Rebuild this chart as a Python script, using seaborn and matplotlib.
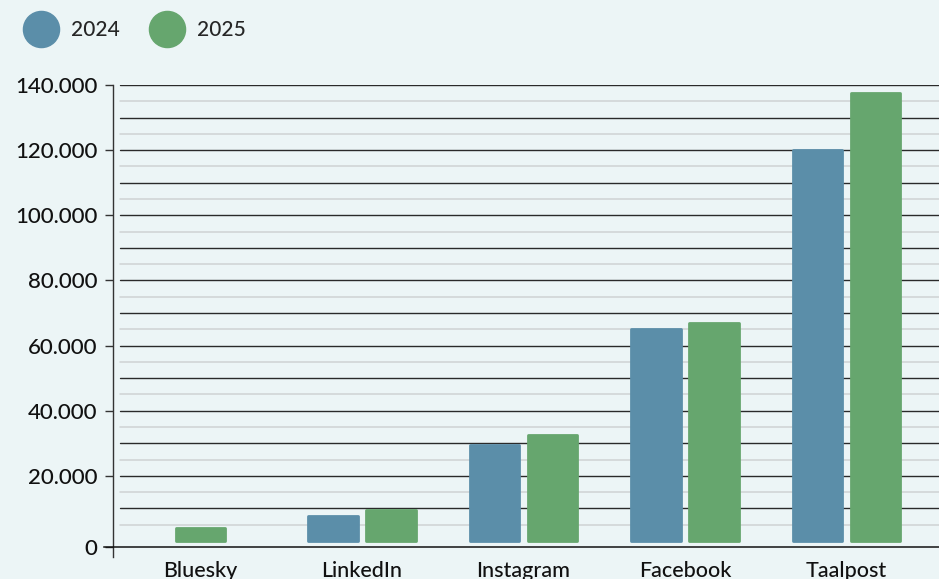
import numpy as np
import pandas as pd
import matplotlib.pyplot as plt
import seaborn as sns
from matplotlib.lines import Line2D

# data
platforms = ["Bluesky", "LinkedIn", "Instagram", "Facebook", "Taalpost"]
years = ["2024", "2025"]
followers_2024 = [np.nan, 7600, 29500, 65000, 120000]
followers_2025 = [4000, 9500, 32600, 67000, 137600]
y_ticks = [20000, 40000, 60000, 80000, 100000, 120000, 140000]

BG = "#ecf5f6"
COLORS = {"2024": "#5b8ea9", "2025": "#66a66e"}
Y_FLOOR = -1850  # baseline sits a little below zero in the original

sns.set_theme(style="white")
plt.rcParams["font.family"] = ["Lato", "DejaVu Sans"]
plt.rcParams["font.weight"] = "medium"

df = pd.DataFrame({"platform": platforms, "2024": followers_2024, "2025": followers_2025})
long_df = df.melt(id_vars="platform", var_name="year", value_name="followers").dropna()

fig = plt.figure(figsize=(9.39, 5.79), dpi=100, facecolor=BG)
ax = fig.add_axes([0.1203, 0.0553, 0.8797, 0.7979])
ax.set_facecolor(BG)

sns.barplot(data=long_df, x="platform", y="followers", hue="year",
            order=platforms, hue_order=years, palette=COLORS,
            width=0.72, gap=0.15, saturation=1, errorbar=None,
            legend=False, ax=ax, zorder=3)

# rounded look for the bars
for bar in ax.patches:
    bar.set_edgecolor(bar.get_facecolor())
    bar.set_linewidth(2)
    bar.set_joinstyle("round")

# a lone bar (no 2024 value) is centred on its category
missing = [i for i, v in enumerate(followers_2024) if np.isnan(v)]
for bar in ax.containers[1]:
    i = int(round(bar.get_x() + bar.get_width() / 2))
    if i in missing:
        bar.set_x(i - bar.get_width() / 2)

ax.set_xlim(-0.542, 4.573)
ax.set_ylim(Y_FLOOR, 140000)

# gridlines: dark every 10.000, light in between
for v in range(5000, 140001, 5000):
    dark = v % 10000 == 0
    ax.axhline(v, xmin=0.0085, xmax=1, color="#2a2a2a" if dark else "#cfd3d4",
               lw=1.0 if dark else 1.1, zorder=1)

for side in ["top", "right"]:
    ax.spines[side].set_visible(False)
ax.spines["left"].set_color("#333333")
ax.spines["left"].set_linewidth(1.0)
ax.spines["left"].set_bounds(-4900, 140000)
ax.spines["bottom"].set_color("#111111")
ax.spines["bottom"].set_linewidth(1.1)
ax.spines["bottom"].set_bounds(-0.598, 4.573)

ax.set_yticks([Y_FLOOR] + y_ticks)
ax.set_yticklabels(["0"] + [f"{v:,}".replace(",", ".") for v in y_ticks])
ax.tick_params(axis="y", left=True, length=6, width=1, color="#333333",
               pad=5, labelsize=16, labelcolor="#111111")
ax.tick_params(axis="x", bottom=False, length=0, pad=10, labelsize=15.5,
               labelcolor="#111111")
ax.set_xlabel("")
ax.set_ylabel("")

handles = [Line2D([0], [0], marker="o", linestyle="none", markersize=26,
                  markerfacecolor=COLORS[y], markeredgecolor=COLORS[y], label=y)
           for y in years]
fig.legend(handles=handles, loc="center left", bbox_to_anchor=(0.0245, 0.948),
           ncol=2, frameon=False, fontsize=15, handlelength=1.7,
           handletextpad=0.6, columnspacing=1.42, borderpad=0, borderaxespad=0)

fig.savefig("out.png", dpi=100, facecolor=BG)
